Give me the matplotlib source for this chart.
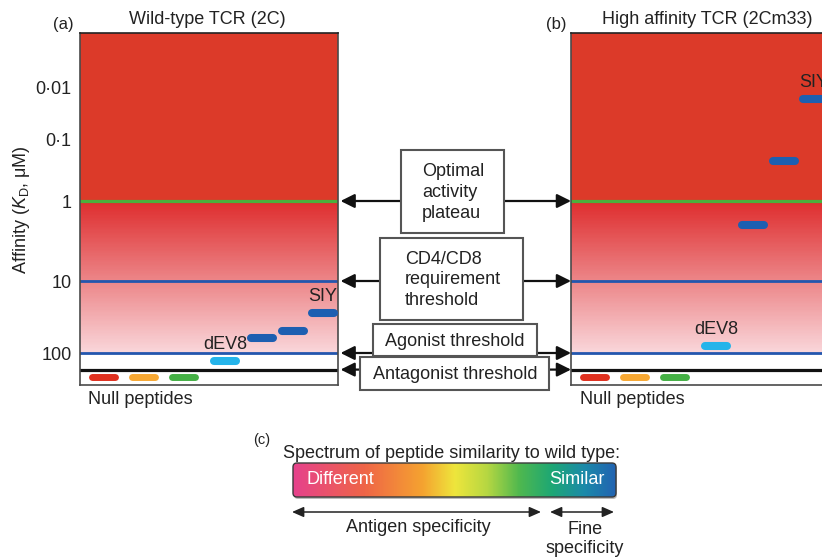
import numpy as np
import matplotlib
matplotlib.use("Agg")
import matplotlib.pyplot as plt
from matplotlib.colors import LinearSegmentedColormap, to_rgb
from matplotlib.patches import Rectangle, FancyBboxPatch

plt.rcParams["font.family"] = ["Liberation Sans", "DejaVu Sans"]
plt.rcParams["mathtext.fontset"] = "custom"
plt.rcParams["mathtext.rm"] = "Liberation Sans"
plt.rcParams["mathtext.it"] = "Liberation Sans:italic"

# affinity axis (KD, uM)
tick_values = [0.01, 0.1, 1, 10, 100]
tick_labels = ["0·01", "0·1", "1", "10", "100"]

# thresholds (KD, uM)
threshold_names = ["Optimal\nactivity\nplateau", "CD4/CD8\nrequirement\nthreshold",
                   "Agonist threshold", "Antagonist threshold"]
threshold_kd = [1, 10, 100, 170]

# peptides, ordered from different to similar
peptide_names = ["dEV8", "", "", "SIY"]
kd_wild_type = [130, 62, 50, 28]
kd_high_affinity = [80, 2.0, 0.22, 0.017]
null_peptides = ["null 1", "null 2", "null 3"]
null_kd = [215, 215, 215]

W, H = 822, 560

# the schematic affinity axis is not evenly spaced per decade
LOG_ANCHORS = [-4, -3, -2, -1, 0, 1, 2, 3, 4]
PIX_ANCHORS = [-19, 34, 87, 140, 201, 281, 353, 425, 497]


def fwd(v):
    v = np.clip(np.asarray(v, dtype=float), 1e-12, None)
    return np.interp(np.log10(v), LOG_ANCHORS, PIX_ANCHORS)


def inv(v):
    return 10 ** np.interp(np.asarray(v, dtype=float), PIX_ANCHORS, LOG_ANCHORS)


fig = plt.figure(figsize=(W / 100, H / 100), dpi=100)


def px_axes(left, top, width, height):
    return fig.add_axes([left / W, 1 - (top + height) / H, width / W, height / H])


top_red = np.array(to_rgb("#dc3a29"))
grad_start = np.array(to_rgb("#de2d2e"))
grad_end = np.array(to_rgb("#f9d6da"))
null_colors = ["#e0301e", "#f7a833", "#44b045"]
line_colors = ["#4caf3c", "#2356ae", "#2356ae", "#111111"]
line_widths = [2.3, 2.0, 2.0, 2.3]
peptide_colors = ["#25b4ea", "#1d5fb1", "#1d5fb1", "#1d5fb1"]

# x slots in 10 px units
null_x = [2.3, 6.3, 10.3]
peptide_x = [14.5, 18.2, 21.3, 24.3]

panels = []
for left, kds in [(80, kd_wild_type), (571, kd_high_affinity)]:
    ax = px_axes(left, 33, 258, 352)
    ax.set_yscale("function", functions=(fwd, inv))
    ax.set_xlim(0, 25.8)
    ax.set_ylim(inv(385), inv(33))

    # background: solid red above plateau, gradient down to agonist threshold
    ax.axhspan(1, inv(33), color=top_red, lw=0, zorder=0)
    p0, p1 = float(fwd(1)), float(fwd(100))
    steps = np.linspace(p0, p1, 120)
    for i in range(len(steps) - 1):
        t = i / (len(steps) - 2)
        c = grad_start + (grad_end - grad_start) * t
        ax.axhspan(inv(steps[i]), inv(steps[i + 1]), color=c, lw=0, zorder=0)

    for kd, c, lw in zip(threshold_kd, line_colors, line_widths):
        ax.axhline(kd, color=c, lw=lw, zorder=2)

    for x, kd, c in zip(null_x, null_kd, null_colors):
        ax.plot([x - 1.15, x + 1.15], [kd, kd], color=c, lw=5,
                solid_capstyle="round", zorder=3)

    for x, kd, c, name in zip(peptide_x, kds, peptide_colors, peptide_names):
        ax.plot([x - 1.1, x + 1.1], [kd, kd], color=c, lw=5.8,
                solid_capstyle="round", zorder=3)
        if name:
            ax.annotate(name, (x, kd), xytext=(0, 8), textcoords="offset pixels",
                        ha="center", va="bottom", fontsize=13, color="#222222",
                        annotation_clip=False)

    ax.set_ylim(inv(385), inv(33))
    if not ax.yaxis_inverted():
        ax.invert_yaxis()
    ax.set_xticks([])
    for s in ax.spines.values():
        s.set_color("#4a4a4a")
        s.set_linewidth(1.2)
    ax.spines["top"].set_color("#222222")
    panels.append(ax)

ax_a, ax_b = panels
ax_a.set_yticks(tick_values, tick_labels)
ax_a.tick_params(axis="y", length=0, pad=6, labelsize=13, labelcolor="#222222")
ax_a.set_ylabel(r"Affinity ($K_\mathrm{D}$, μM)", fontsize=13, color="#222222")
ax_a.yaxis.set_label_coords(-48 / 258, (385 - 210) / 352)
ax_b.set_yticks([])
ax_b.yaxis.set_minor_locator(matplotlib.ticker.NullLocator())
ax_a.yaxis.set_minor_locator(matplotlib.ticker.NullLocator())

# overlay in pixel coordinates
ov = fig.add_axes([0, 0, 1, 1])
ov.set_xlim(0, W)
ov.set_ylim(H, 0)
ov.axis("off")

ov.text(63, 24, "(a)", ha="center", va="center", fontsize=12, color="#222222")
ov.text(207, 19, "Wild-type TCR (2C)", ha="center", va="center", fontsize=13, color="#222222")
ov.text(556, 25, "(b)", ha="center", va="center", fontsize=12, color="#222222")
ov.text(707, 19, "High affinity TCR (2Cm33)", ha="center", va="center", fontsize=13, color="#222222")
ov.text(140, 399, "Null peptides", ha="center", va="center", fontsize=13, color="#222222")
ov.text(632, 399, "Null peptides", ha="center", va="center", fontsize=13, color="#222222")

# arrows from the label boxes to both panels
arrow_style = "<|-|>,head_length=0.6,head_width=0.3"
for kd in threshold_kd:
    ov.annotate("", xy=(0, kd), xycoords=ax_b.get_yaxis_transform(),
                xytext=(1.01, kd), textcoords=ax_a.get_yaxis_transform(),
                arrowprops=dict(arrowstyle=arrow_style, color="#111111", lw=1.6,
                                mutation_scale=14, shrinkA=0, shrinkB=0),
                zorder=2)

# label boxes: (left, top, right, bottom), text x, align
boxes = [
    ((401, 150, 504, 233), 422, "left"),
    ((380, 238, 523, 320), 405, "left"),
    ((373, 324, 537, 356), 455, "center"),
    ((360, 357, 549, 390), 455, "center"),
]
for name, ((l, t, r, b), tx, ha) in zip(threshold_names, boxes):
    ov.add_patch(Rectangle((l, t), r - l, b - t, facecolor="white",
                           edgecolor="#555555", lw=1.5, zorder=4))
    ov.text(tx, (t + b) / 2 + 1, name, ha=ha, va="center", fontsize=13,
            color="#222222", linespacing=1.3, zorder=5)

# (c) similarity spectrum
ov.text(262, 440, "(c)", ha="center", va="center", fontsize=10.5, color="#222222")
ov.text(283, 453, "Spectrum of peptide similarity to wild type:", ha="left",
        va="center", fontsize=13, color="#222222")

spectrum = LinearSegmentedColormap.from_list("spectrum", [
    (0.0, "#e6428c"), (0.22, "#ef6547"), (0.4, "#f5a330"), (0.5, "#eee63c"),
    (0.6, "#b6d742"), (0.7, "#4fb84f"), (0.8, "#1da774"), (0.9, "#1b8aa9"),
    (1.0, "#2262b2")])
shadow = FancyBboxPatch((294, 465), 323, 34, boxstyle="round,pad=0,rounding_size=4",
                        facecolor="#bbbbbb", edgecolor="none", zorder=1)
ov.add_patch(shadow)
frame = FancyBboxPatch((293, 463), 323, 34, boxstyle="round,pad=0,rounding_size=4",
                       facecolor="none", edgecolor="#3a3a3a", lw=1.0, zorder=3)
ov.add_patch(frame)
im = ov.imshow(np.linspace(0, 1, 256)[None, :], cmap=spectrum, aspect="auto",
               extent=[293, 616, 497, 463], zorder=2)
im.set_clip_path(frame)
ov.set_xlim(0, W)
ov.set_ylim(H, 0)
ov.text(306, 480, "Different", ha="left", va="center", fontsize=13, color="white", zorder=4)
ov.text(605, 480, "Similar", ha="right", va="center", fontsize=13, color="white", zorder=4)

small_arrow = "<|-|>,head_length=0.5,head_width=0.22"
ov.annotate("", xy=(292, 512), xytext=(541, 512),
            arrowprops=dict(arrowstyle=small_arrow, color="#222222", lw=1.1,
                            mutation_scale=14, shrinkA=0, shrinkB=0))
ov.annotate("", xy=(550, 512), xytext=(614, 512),
            arrowprops=dict(arrowstyle=small_arrow, color="#222222", lw=1.1,
                            mutation_scale=14, shrinkA=0, shrinkB=0))
ov.text(418, 528, "Antigen specificity", ha="center", va="center", fontsize=13, color="#222222")
ov.text(585, 539, "Fine\nspecificity", ha="center", va="center", fontsize=13,
        color="#222222", linespacing=1.15)

fig.savefig("out.png", dpi=100)
